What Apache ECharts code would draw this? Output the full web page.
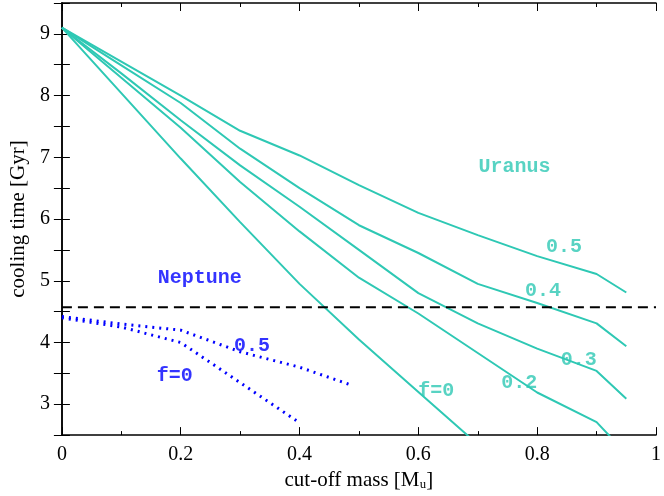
<!DOCTYPE html>
<html><head><meta charset="utf-8">
<script src="https://cdn.jsdelivr.net/npm/echarts@6/dist/echarts.min.js"></script>
<style>body{margin:0}#c{width:664px;height:496px}</style></head>
<body><div id="c"></div>
<script>
// cut-off mass grid
const mass = [0, 0.1, 0.2, 0.3, 0.4, 0.5, 0.6, 0.7, 0.8, 0.9, 0.95];
// Uranus curves (f value -> cooling time)
const uranusF0 = [[0, 9.1], [0.1, 8.04], [0.2, 6.98], [0.3, 5.95], [0.4, 4.95], [0.5, 4.05], [0.6, 3.2], [0.7, 2.35]];
const uranusF02 = [9.1, 8.29, 7.48, 6.6, 5.8, 5.05, 4.47, 3.83, 3.19, 2.71, 2.2];
const uranusF03 = [9.1, 8.36, 7.6, 6.87, 6.2, 5.5, 4.8, 4.31, 3.9, 3.54, 3.09];
const uranusF04 = [9.1, 8.49, 7.88, 7.14, 6.5, 5.9, 5.45, 4.95, 4.64, 4.31, 3.94];
const uranusF05 = [9.1, 8.55, 8.0, 7.43, 7.03, 6.55, 6.1, 5.74, 5.4, 5.11, 4.81];
// Neptune curves
const neptuneF0 = [[0, 4.4], [0.1, 4.25], [0.2, 4.0], [0.3, 3.35], [0.4, 2.7]];
const neptuneF05 = [[0, 4.42], [0.1, 4.3], [0.2, 4.2], [0.3, 3.85], [0.4, 3.6], [0.49, 3.3]];
const solarAge = 4.57;

const teal = '#2ec8b4', blue = '#0000ff';
const pair = arr => arr.map((v, i) => [mass[i], v]);
const mono = { fontFamily: 'Liberation Mono', fontWeight: 'bold', fontSize: 20 };

function line(data, color, dotted) {
  return { type: 'line', data, symbol: 'none', silent: true, clip: true,
    lineStyle: { color, width: dotted ? 3 : 2, type: dotted ? [2, 5] : 'solid' } };
}
function label(x, y, text, color) {
  return { type: 'scatter', data: [[x, y]], symbolSize: 0, silent: true,
    label: { show: true, position: 'inside', formatter: text, color, ...mono } };
}

const chart = echarts.init(document.getElementById('c'));
const axisCommon = {
  axisLine: { lineStyle: { color: '#000', width: 1.5 } },
  axisTick: { inside: true, length: 8, lineStyle: { color: '#000' } },
  minorTick: { show: true, splitNumber: 2, length: 4, lineStyle: { color: '#000' } },
  splitLine: { show: false },
  axisLabel: { color: '#000', fontFamily: 'Liberation Serif', fontSize: 20 }
};
chart.setOption({
  animation: false,
  grid: { left: 51, right: 8, top: 3, bottom: 57 },
  xAxis: [
    { ...axisCommon, type: 'value', min: 0, max: 1, interval: 0.2,
      name: 'cut-off mass [M\u1d64]', nameLocation: 'middle', nameGap: 34,
      nameTextStyle: { fontFamily: 'Liberation Serif', fontSize: 21, color: '#000' },
      axisLabel: { ...axisCommon.axisLabel, margin: 10, formatter: v => v === 0 || v === 1 ? String(v) : v.toFixed(1) } },
    { ...axisCommon, type: 'value', min: 0, max: 1, interval: 0.2, position: 'top',
      axisLabel: { show: false } }
  ],
  yAxis: [
    { ...axisCommon, type: 'value', min: 2.5, max: 9.5, interval: 0.5,
      name: 'cooling time [Gyr]', nameLocation: 'middle', nameGap: 30,
      nameTextStyle: { fontFamily: 'Liberation Serif', fontSize: 21, color: '#000' },
      axisLabel: { ...axisCommon.axisLabel, margin: 12, formatter: v => Number.isInteger(v) ? String(v) : '' },
      minorTick: { show: false } },
    { ...axisCommon, type: 'value', min: 2.5, max: 9.5, interval: 0.5, position: 'right',
      axisLabel: { show: false }, minorTick: { show: false } }
  ],
  series: [
    line(uranusF0, teal), line(pair(uranusF02), teal), line(pair(uranusF03), teal),
    line(pair(uranusF04), teal), line(pair(uranusF05), teal),
    line(neptuneF0, blue, true), line(neptuneF05, blue, true),
    { type: 'line', data: [[0, solarAge], [1, solarAge]], symbol: 'none', silent: true,
      lineStyle: { color: '#000', width: 2, type: [10, 6] } },
    label(0.762, 6.85, 'Uranus', teal), label(0.845, 5.55, '0.5', teal),
    label(0.81, 4.83, '0.4', teal), label(0.87, 3.72, '0.3', teal),
    label(0.77, 3.35, '0.2', teal), label(0.63, 3.22, 'f=0', teal),
    label(0.232, 5.05, 'Neptune', blue), label(0.32, 3.95, '0.5', blue),
    label(0.19, 3.45, 'f=0', blue)
  ]
});
</script></body></html>
